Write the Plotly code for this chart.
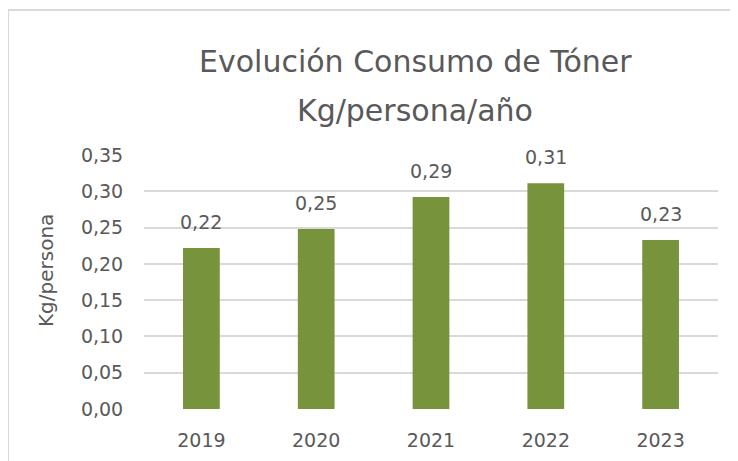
import plotly.graph_objects as go

years = ["2019", "2020", "2021", "2022", "2023"]
values = [0.222, 0.248, 0.292, 0.311, 0.233]
labels = ["0,22", "0,25", "0,29", "0,31", "0,23"]
tick_vals = [0, 0.05, 0.10, 0.15, 0.20, 0.25, 0.30, 0.35]
tick_text = ["0,00", "0,05", "0,10", "0,15", "0,20", "0,25", "0,30", "0,35"]
title_lines = ["Evolución Consumo de Tóner", "Kg/persona/año"]

FONT = "DejaVu Sans, sans-serif"
GRAY = "#595959"

fig = go.Figure(go.Bar(
    x=years, y=values,
    marker=dict(color="#77933C", line=dict(width=0)),
    hoverinfo="skip",
))

# figure is placed at (8,8) in the page by the default body margin
W, H = 730, 453
L, R, T, B = 136, 20, 147, 52
pw, ph = W - L - R, H - T - B

annotations = [
    dict(x=i, y=v, text=t, xref="x", yref="y", showarrow=False,
         yanchor="middle", yshift=26,
         font=dict(size=19, color=GRAY, family=FONT))
    for i, (v, t) in enumerate(zip(values, labels))
]
annotations.append(dict(
    text="Kg/persona", xref="paper", yref="paper",
    x=(38 - L) / pw, y=(H - B - 262) / ph, xanchor="center", yanchor="middle",
    textangle=-90, showarrow=False,
    font=dict(size=20, color=GRAY, family=FONT),
))
for line, fy in zip(title_lines, [53, 102]):
    annotations.append(dict(
        text=line, xref="paper", yref="paper",
        x=(407 - L) / pw, y=(H - B - fy) / ph, xanchor="center", yanchor="middle",
        showarrow=False,
        font=dict(size=30, color=GRAY, family=FONT),
    ))

fig.update_layout(
    width=W, height=H,
    margin=dict(l=L, r=R, t=T, b=B, autoexpand=False),
    paper_bgcolor="white", plot_bgcolor="white",
    bargap=0.68,
    showlegend=False,
    font=dict(family=FONT, color=GRAY),
    xaxis=dict(
        type="category", range=[-0.5, len(years) - 0.5],
        showgrid=False, showline=False, ticks="outside", ticklen=14, tickcolor="white",
        tickfont=dict(size=19, color=GRAY, family=FONT), automargin=False,
    ),
    yaxis=dict(
        range=[0, 0.35], tickvals=tick_vals, ticktext=tick_text,
        showgrid=True, gridcolor="#d9d9d9", gridwidth=1.5,
        zeroline=False, showline=False, ticks="outside", ticklen=16, tickcolor="white",
        tickfont=dict(size=19, color=GRAY, family=FONT), automargin=False,
    ),
    annotations=annotations,
    shapes=[dict(
        type="rect", xref="paper", yref="paper",
        x0=(0 - L) / pw, x1=(W + 30 - L) / pw,
        y0=(H - B - (H + 30)) / ph, y1=(H - B - 2) / ph,
        line=dict(color="#d9d9d9", width=2), fillcolor="rgba(0,0,0,0)", layer="below",
    )],
)

fig.write_html("out.html")
